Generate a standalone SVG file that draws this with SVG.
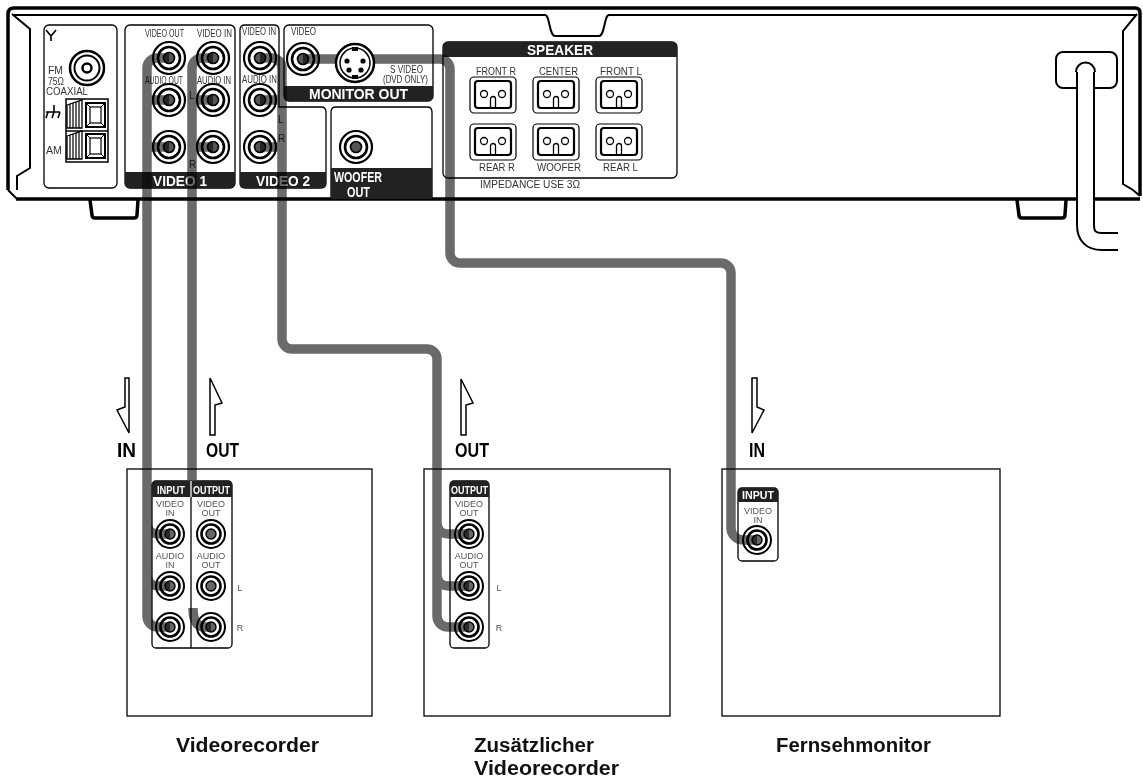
<svg xmlns="http://www.w3.org/2000/svg" width="1143" height="777" viewBox="0 0 1143 777">
<defs>
<style>
.ln{fill:none;stroke:#000;stroke-width:2}
.thk{fill:none;stroke:#000;stroke-width:3.5}
.pn{fill:#fff;stroke:#000;stroke-width:1.3}
.bd{fill:#222}
.t{font-family:"Liberation Sans",Arial,Helvetica,sans-serif;font-size:10px;fill:#333}
.tb{font-family:"Liberation Sans",Arial,Helvetica,sans-serif;font-weight:bold;font-size:15px;fill:#fff}
.tw{font-family:"Liberation Sans",Arial,Helvetica,sans-serif;font-weight:bold;font-size:11px;fill:#fff}
.tl{font-family:"Liberation Sans",Arial,Helvetica,sans-serif;font-weight:bold;font-size:20px;fill:#000}
.tc{font-family:"Liberation Sans",Arial,Helvetica,sans-serif;font-size:9px;fill:#555;text-anchor:middle}
.tn{font-family:"Liberation Sans",Arial,Helvetica,sans-serif;font-weight:bold;font-size:20px;fill:#111}
.cab{fill:none;stroke:#6a6a6a;stroke-width:9.5}
.arr{fill:#fff;stroke:#000;stroke-width:1.5;stroke-linejoin:miter}
</style>
<g id="jk">
<circle r="16" fill="#fff" stroke="#000" stroke-width="2.2"/>
<circle r="11" fill="none" stroke="#000" stroke-width="2.6"/>
<circle r="5.5" fill="#555" stroke="#000" stroke-width="1.6"/>
</g>
<g id="jks">
<circle r="14" fill="#fff" stroke="#000" stroke-width="2"/>
<circle r="9.5" fill="none" stroke="#000" stroke-width="2.6"/>
<circle r="5" fill="#666" stroke="#000" stroke-width="1.4"/>
</g>
<g id="spk">
<rect x="-23" y="-18" width="46" height="36" rx="4" fill="#fff" stroke="#000" stroke-width="1.2"/>
<rect x="-18" y="-14" width="36" height="27" rx="3" fill="none" stroke="#000" stroke-width="2.2"/>
<circle cx="-9" cy="-1" r="3.5" fill="none" stroke="#000" stroke-width="1.3"/>
<circle cx="9" cy="-1" r="3.5" fill="none" stroke="#000" stroke-width="1.3"/>
<path d="M-2.5,13 V4 A2.5,2.5 0 0 1 2.5,4 V13" fill="none" stroke="#000" stroke-width="1.3"/>
</g>
<g id="amt">
<path d="M67,105 L82,100 V128 H67 Z" fill="#fff" stroke="#000" stroke-width="1.3"/>
<path d="M70,104 V128 M73,103 V128 M76,102 V128 M79,101 V128" stroke="#000" stroke-width="1.2"/>
<rect x="86" y="103" width="19" height="24" fill="#fff" stroke="#000" stroke-width="2"/>
<rect x="90" y="107" width="11" height="16" fill="none" stroke="#000" stroke-width="1.2"/>
<path d="M86,103 L90,107 M105,103 L101,107 M86,127 L90,123 M105,127 L101,123" stroke="#000" stroke-width="1"/>
</g>
</defs>
<rect width="1143" height="777" fill="#fff"/>

<!-- main unit body -->
<g id="unit">
<path class="thk" d="M8,190 V14 Q8,8 14,8 H1135 Q1140,8 1140,13 V196"/>
<path class="ln" d="M14,15 H545 C550,15 549,36 555,36 H599 C605,36 604,15 609,15 H1136" stroke-width="1.5"/>
<path class="ln" stroke-width="1.5" d="M12,14 L30,29 V168 L17,176 V190 M8,190 L17,199"/>
<path class="ln" stroke-width="1.5" d="M1137,14 L1123,31 V184 L1133,190 L1140,196"/>
<path class="thk" d="M16,199 H1140"/>
<path class="thk" d="M90,200 L92,215 Q92,218 95,218 H134 Q137,218 137,215 L138,200"/>
<path class="thk" d="M1017,200 L1019,215 Q1019,218 1022,218 H1062 Q1065,218 1065,215 L1066,200"/>
<rect x="1056" y="52" width="61" height="36" rx="7" fill="#fff" stroke="#000" stroke-width="2"/>
</g>

<!-- antenna panel -->
<g id="antenna">
<rect class="pn" x="44" y="25" width="73" height="163" rx="5"/>
<path d="M46,30 L51,36 L56,30 M51,36 V41" fill="none" stroke="#000" stroke-width="1.6"/>
<text class="t" x="48" y="74" font-size="13" textLength="15" lengthAdjust="spacingAndGlyphs">FM</text>
<text class="t" x="48" y="85" textLength="16" lengthAdjust="spacingAndGlyphs">75Ω</text>
<text class="t" x="46" y="95" textLength="42" lengthAdjust="spacingAndGlyphs">COAXIAL</text>
<circle cx="87" cy="68" r="17" fill="#fff" stroke="#000" stroke-width="2.5"/>
<circle cx="87" cy="68" r="12.5" fill="none" stroke="#000" stroke-width="2"/>
<circle cx="87" cy="68" r="4.5" fill="#fff" stroke="#000" stroke-width="2.5"/>
<rect x="66" y="99" width="42" height="63" fill="#fff" stroke="#000" stroke-width="1.5"/>
<line x1="66" y1="131" x2="108" y2="131" stroke="#000" stroke-width="1.5"/>
<use href="#amt"/>
<use href="#amt" y="31"/>
<path d="M46,112 H60 M54,105 V112 M48,112 L46,118 M54,112 L52,118 M60,112 L58,118" fill="none" stroke="#000" stroke-width="1.6"/>
<text class="t" x="46" y="154" font-size="13" textLength="16" lengthAdjust="spacingAndGlyphs">AM</text>
</g>

<!-- VIDEO 1 -->
<g id="video1">
<rect class="pn" x="125" y="25" width="110" height="163" rx="5"/>
<path class="bd" d="M125,172 H235 V183 Q235,188 230,188 H130 Q125,188 125,183 Z"/>
<text class="tb" x="153" y="186" textLength="54" lengthAdjust="spacingAndGlyphs">VIDEO 1</text>
<text class="t" x="145" y="37" textLength="39" lengthAdjust="spacingAndGlyphs">VIDEO OUT</text>
<text class="t" x="197" y="37" textLength="35" lengthAdjust="spacingAndGlyphs">VIDEO IN</text>
<text class="t" x="145" y="84" textLength="38" lengthAdjust="spacingAndGlyphs">AUDIO OUT</text>
<text class="t" x="197" y="84" textLength="34" lengthAdjust="spacingAndGlyphs">AUDIO IN</text>
<text class="t" x="189" y="99" font-size="13">L</text>
<text class="t" x="189" y="168" font-size="13">R</text>
<use href="#jk" x="169" y="58"/><use href="#jk" x="213" y="58"/>
<use href="#jk" x="169" y="100"/><use href="#jk" x="213" y="100"/>
<use href="#jk" x="169" y="147"/><use href="#jk" x="213" y="147"/>
</g>

<!-- VIDEO 2 -->
<g id="video2">
<path class="pn" d="M240,30 Q240,25 245,25 H274 Q279,25 279,30 V107 H321 Q326,107 326,112 V183 Q326,188 321,188 H245 Q240,188 240,183 Z"/>
<path class="bd" d="M240,172 H326 V183 Q326,188 321,188 H245 Q240,188 240,183 Z"/>
<text class="tb" x="256" y="186" textLength="54" lengthAdjust="spacingAndGlyphs">VIDEO 2</text>
<text class="t" x="242" y="35" textLength="34" lengthAdjust="spacingAndGlyphs">VIDEO IN</text>
<text class="t" x="242" y="83" textLength="35" lengthAdjust="spacingAndGlyphs">AUDIO IN</text>
<text class="t" x="278" y="123" font-size="13">L</text>
<text class="t" x="278" y="142" font-size="13">R</text>
<use href="#jk" x="260" y="58"/><use href="#jk" x="260" y="100"/><use href="#jk" x="260" y="147"/>
</g>

<!-- MONITOR OUT -->
<g id="monitorout">
<rect class="pn" x="284" y="25" width="149" height="76" rx="5"/>
<path class="bd" d="M284,86 H433 V96 Q433,101 428,101 H289 Q284,101 284,96 Z"/>
<text class="tb" x="309" y="99" textLength="99" lengthAdjust="spacingAndGlyphs">MONITOR OUT</text>
<text class="t" x="291" y="35" textLength="25" lengthAdjust="spacingAndGlyphs">VIDEO</text>
<text class="t" x="390" y="73" textLength="33" lengthAdjust="spacingAndGlyphs">S VIDEO</text>
<text class="t" x="383" y="83" textLength="45" lengthAdjust="spacingAndGlyphs">(DVD ONLY)</text>
<use href="#jk" x="303" y="59"/>
</g>

<!-- WOOFER OUT -->
<g id="woofer">
<path class="pn" d="M331,199 V112 Q331,107 336,107 H427 Q432,107 432,112 V199"/>
<rect class="bd" x="331" y="168" width="101" height="31"/>
<text class="tb" x="334" y="182" font-size="14" textLength="48" lengthAdjust="spacingAndGlyphs">WOOFER</text>
<text class="tb" x="347" y="197" font-size="14" textLength="23" lengthAdjust="spacingAndGlyphs">OUT</text>
<use href="#jk" x="356" y="147"/>
</g>

<!-- SPEAKER -->
<g id="speaker">
<rect class="pn" x="443" y="42" width="234" height="136" rx="5"/>
<path class="bd" d="M443,57 V47 Q443,42 448,42 H672 Q677,42 677,47 V57 Z"/>
<text class="tb" x="527" y="55" textLength="66" lengthAdjust="spacingAndGlyphs">SPEAKER</text>
<text class="t" x="476" y="75" textLength="40" lengthAdjust="spacingAndGlyphs">FRONT R</text>
<text class="t" x="539" y="75" textLength="39" lengthAdjust="spacingAndGlyphs">CENTER</text>
<text class="t" x="600" y="75" textLength="42" lengthAdjust="spacingAndGlyphs">FRONT L</text>
<use href="#spk" x="493" y="95"/><use href="#spk" x="556" y="95"/><use href="#spk" x="619" y="95"/>
<use href="#spk" x="493" y="142"/><use href="#spk" x="556" y="142"/><use href="#spk" x="619" y="142"/>
<text class="t" x="479" y="171" textLength="36" lengthAdjust="spacingAndGlyphs">REAR R</text>
<text class="t" x="537" y="171" textLength="44" lengthAdjust="spacingAndGlyphs">WOOFER</text>
<text class="t" x="603" y="171" textLength="35" lengthAdjust="spacingAndGlyphs">REAR L</text>
<text class="t" x="480" y="188" textLength="100" lengthAdjust="spacingAndGlyphs">IMPEDANCE USE  3Ω</text>
</g>

<!-- device 1: Videorecorder -->
<g id="vcr1">
<rect x="127" y="469" width="245" height="247" fill="#fff" stroke="#000" stroke-width="1.3"/>
<rect class="pn" x="152" y="481" width="80" height="167" rx="4"/>
<path class="bd" d="M152,497 V485 Q152,481 156,481 H228 Q232,481 232,485 V497 Z"/>
<line x1="191" y1="481" x2="191" y2="648" stroke="#000" stroke-width="1.3"/>
<line x1="191" y1="481" x2="191" y2="497" stroke="#fff" stroke-width="1.3"/>
<text class="tw" x="157" y="494" textLength="28" lengthAdjust="spacingAndGlyphs">INPUT</text>
<text class="tw" x="193" y="494" textLength="37" lengthAdjust="spacingAndGlyphs">OUTPUT</text>
<text class="tc" x="170" y="507">VIDEO</text><text class="tc" x="170" y="516">IN</text>
<text class="tc" x="211" y="507">VIDEO</text><text class="tc" x="211" y="516">OUT</text>
<text class="tc" x="170" y="559">AUDIO</text><text class="tc" x="170" y="568">IN</text>
<text class="tc" x="211" y="559">AUDIO</text><text class="tc" x="211" y="568">OUT</text>
<text class="tc" x="240" y="591">L</text><text class="tc" x="240" y="631">R</text>
<use href="#jks" x="170" y="534"/><use href="#jks" x="211" y="534"/>
<use href="#jks" x="170" y="586"/><use href="#jks" x="211" y="586"/>
<use href="#jks" x="170" y="627"/><use href="#jks" x="211" y="627"/>
<polygon class="arr" points="125,378 129,378 129,433 117,410 125,407"/>
<text class="tl" x="117" y="457" textLength="19" lengthAdjust="spacingAndGlyphs">IN</text>
<polygon class="arr" points="210,435 215,435 215,405 222,403 210,378"/>
<text class="tl" x="206" y="457" textLength="33" lengthAdjust="spacingAndGlyphs">OUT</text>
<text class="tn" x="176" y="752" textLength="143" lengthAdjust="spacingAndGlyphs">Videorecorder</text>
</g>

<!-- device 2: Zusätzlicher Videorecorder -->
<g id="vcr2">
<rect x="424" y="469" width="246" height="247" fill="#fff" stroke="#000" stroke-width="1.3"/>
<rect class="pn" x="450" y="481" width="39" height="167" rx="4"/>
<path class="bd" d="M450,497 V485 Q450,481 454,481 H485 Q489,481 489,485 V497 Z"/>
<text class="tw" x="451" y="494" textLength="37" lengthAdjust="spacingAndGlyphs">OUTPUT</text>
<text class="tc" x="469" y="507">VIDEO</text><text class="tc" x="469" y="516">OUT</text>
<text class="tc" x="469" y="559">AUDIO</text><text class="tc" x="469" y="568">OUT</text>
<text class="tc" x="499" y="591">L</text><text class="tc" x="499" y="631">R</text>
<use href="#jks" x="469" y="534"/><use href="#jks" x="469" y="586"/><use href="#jks" x="469" y="627"/>
<polygon class="arr" points="461,435 466,435 466,405 473,403 461,379"/>
<text class="tl" x="455" y="457" textLength="34" lengthAdjust="spacingAndGlyphs">OUT</text>
<text class="tn" x="474" y="752" textLength="120" lengthAdjust="spacingAndGlyphs">Zusätzlicher</text>
<text class="tn" x="474" y="775" textLength="145" lengthAdjust="spacingAndGlyphs">Videorecorder</text>
</g>

<!-- device 3: Fernsehmonitor -->
<g id="monitor">
<rect x="722" y="469" width="278" height="247" fill="#fff" stroke="#000" stroke-width="1.3"/>
<rect class="pn" x="738" y="488" width="40" height="73" rx="4"/>
<path class="bd" d="M738,502 V492 Q738,488 742,488 H774 Q778,488 778,492 V502 Z"/>
<text class="tw" x="742" y="499" textLength="32" lengthAdjust="spacingAndGlyphs">INPUT</text>
<text class="tc" x="758" y="514">VIDEO</text><text class="tc" x="758" y="523">IN</text>
<use href="#jks" x="757" y="540"/>
<polygon class="arr" points="752,378 757,378 757,407 764,410 752,433"/>
<text class="tl" x="749" y="457" textLength="16" lengthAdjust="spacingAndGlyphs">IN</text>
<text class="tn" x="776" y="752" textLength="155" lengthAdjust="spacingAndGlyphs">Fernsehmonitor</text>
</g>

<!-- connectors -->
<g id="connectors" style="mix-blend-mode:multiply">
<path class="cab" d="M169,58 H157 A10,10 0 0 0 147,68 V616 A11,11 0 0 0 158,627 H170 M169,100 H147 M169,147 H147 M147,522 Q147,534 159,534 H170 M147,574 Q147,586 159,586 H170"/>
<path class="cab" d="M213,58 H202 A10,10 0 0 0 192,68 V480 M213,100 H192 M213,147 H192"/>
<path class="cab" d="M193,608 Q193,627 205,627 H211"/>
<path class="cab" d="M260,58 H272 A10,10 0 0 1 282,68 V339 A10,10 0 0 0 292,349 H427 A10,10 0 0 1 437,359 V616 A11,11 0 0 0 448,627 H469 M260,100 H282 M260,147 H282 M437,522 Q437,534 449,534 H469 M437,574 Q437,586 449,586 H469"/>
<path class="cab" d="M303,59 H440 A10,10 0 0 1 450,69 V253 A10,10 0 0 0 460,263 H721 A10,10 0 0 1 731,273 V528 A12,12 0 0 0 743,540 H757"/>
</g>

<!-- S-video connector (on top of cable) -->
<g id="svideo">
<circle cx="355" cy="63" r="19" fill="#fff" stroke="#000" stroke-width="2.5"/>
<circle cx="355" cy="63" r="15" fill="none" stroke="#000" stroke-width="1.5"/>
<rect x="352" y="47" width="6" height="4" fill="#000"/>
<rect x="352" y="75" width="6" height="4" fill="#000"/>
<circle cx="347" cy="61" r="2.6" fill="#000"/><circle cx="363" cy="61" r="2.6" fill="#000"/>
<circle cx="349" cy="70" r="2.6" fill="#000"/><circle cx="361" cy="70" r="2.6" fill="#000"/>
</g>

<!-- power cord -->
<g id="cord">
<path d="M1085.5,72 V225 Q1085.5,241.5 1102,241.5 H1118" fill="none" stroke="#000" stroke-width="19" stroke-linecap="butt"/>
<path d="M1085.5,72 V225 Q1085.5,241.5 1102,241.5 H1119" fill="none" stroke="#fff" stroke-width="15"/>
<path d="M1076,72 A9.5,9.5 0 0 1 1095,72" fill="#fff" stroke="#000" stroke-width="2"/>
</g>
</svg>
